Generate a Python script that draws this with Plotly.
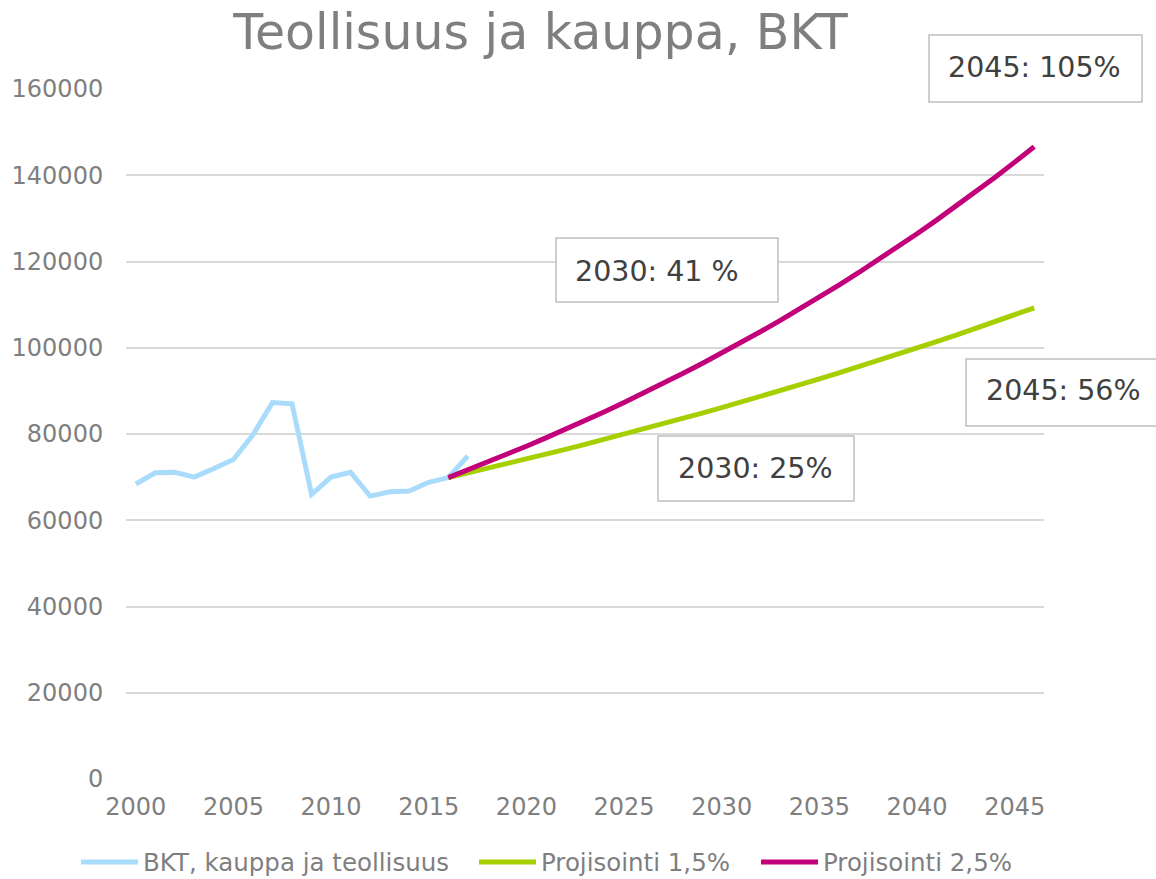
import plotly.graph_objects as go

# ---- data ----
hist_years = list(range(2000, 2018))
hist_values = [68400, 71000, 71100, 70000, 72000, 74100, 79800, 87300, 87000,
               66000, 70000, 71100, 65600, 66600, 66800, 68800, 69900, 74900]

proj_years = list(range(2016, 2047))
proj_15 = [69900, 70950, 72010, 73090, 74190, 75300, 76430, 77580, 78740, 79920,
           81120, 82340, 83570, 84830, 86100, 87390, 88700, 90030, 91380, 92760,
           94150, 95560, 96990, 98450, 99920, 101420, 102940, 104490, 106050,
           107650, 109260]
proj_25 = [69900, 71650, 73440, 75280, 77160, 79090, 81060, 83090, 85170, 87300,
           89480, 91720, 94010, 96360, 98770, 101240, 103770, 106360, 109020,
           111750, 114540, 117400, 120340, 123350, 126430, 129590, 132830,
           136150, 139560, 143040, 146620]

series_names = ["BKT, kauppa ja teollisuus", "Projisointi 1,5%", "Projisointi 2,5%"]
x_ticks = list(range(2000, 2046, 5))
y_ticks = list(range(0, 160001, 20000))
title_text = "Teollisuus ja kauppa, BKT"
labels = ["2045: 105%", "2030: 41 %", "2045: 56%", "2030: 25%"]

# ---- figure geometry (page body margin removed in the page script) ----
W, H = 1156, 879
L, R, T, B = 126, 1044, 89, 779


def px(x):
    return (x - L) / (R - L)


def py(y):
    return (B - y) / (B - T)


BLUE = "#A9DCFB"
GREEN = "#A6CF00"
MAGENTA = "#C2007A"
GREY = "#7F7F7F"
FONT = "DejaVu Sans"

colors = [BLUE, GREEN, MAGENTA]
xs = [hist_years, proj_years, proj_years]
ys = [hist_values, proj_15, proj_25]
legend_ids = ["legend", "legend2", "legend3"]
legend_x = [82, 480, 762]  # reference pixel x of each legend line start

fig = go.Figure()
for name, c, x, y, lg in zip(series_names, colors, xs, ys, legend_ids):
    fig.add_trace(go.Scatter(x=x, y=y, mode="lines", name=name, legend=lg,
                             line=dict(color=c, width=5)))

# label boxes (left, top, right, bottom in reference pixels) and text centres
boxes = [(929, 35, 1142, 102), (556, 238, 778, 302), (966, 359, 1170, 426), (658, 436, 854, 501)]
text_pos = [(1034, 68), (657, 271), (1063, 390), (755, 468)]

shapes = []
annotations = []
for (x0, y0, x1, y1), (tx, ty), lab in zip(boxes, text_pos, labels):
    shapes.append(dict(type="rect", xref="paper", yref="paper",
                       x0=px(x0), x1=px(x1), y0=py(y1), y1=py(y0),
                       fillcolor="white", line=dict(color="#BFBFBF", width=1.5),
                       layer="above"))
    annotations.append(dict(xref="paper", yref="paper", x=px(tx), y=py(ty),
                            text=lab, showarrow=False, xanchor="center", yanchor="middle",
                            font=dict(family=FONT, size=28.5, color="#404040")))

legend_common = dict(orientation="h", xref="container", yref="container",
                     xanchor="left", yanchor="middle", y=(H - 862) / H,
                     font=dict(family=FONT, size=24.5, color=GREY),
                     itemwidth=57, bgcolor="rgba(0,0,0,0)")

layout_legends = {}
for lg, lx in zip(legend_ids, legend_x):
    layout_legends[lg] = dict(legend_common, x=(lx - 6) / W)

fig.update_layout(
    width=W, height=H,
    margin=dict(l=L, r=W - R, t=T, b=H - B, autoexpand=False),
    paper_bgcolor="white", plot_bgcolor="white",
    title=dict(text=title_text, x=(233 + 848) / 2 / W, xanchor="center",
               y=1 - 32 / H, yanchor="middle",
               font=dict(family=FONT, size=49, color=GREY)),
    font=dict(family=FONT, color=GREY),
    showlegend=True,
    shapes=shapes,
    annotations=annotations,
    **layout_legends,
)

fig.update_xaxes(range=[1999.5, 2046.5], tickmode="array", tickvals=x_ticks,
                 showgrid=False, zeroline=False, showline=False,
                 ticks="outside", ticklen=6, tickcolor="rgba(0,0,0,0)",
                 tickfont=dict(family=FONT, size=24, color=GREY))
fig.update_yaxes(range=[0, 160000], tickmode="array", tickvals=y_ticks,
                 tickformat="d",
                 showgrid=True, gridcolor="#D9D9D9", gridwidth=1.5,
                 zeroline=False, showline=False,
                 ticks="outside", ticklen=17, tickcolor="rgba(0,0,0,0)",
                 tickfont=dict(family=FONT, size=24, color=GREY))

fig.write_html("out.html",
               config={"displayModeBar": False},
               post_script="document.body.style.margin='0';document.body.style.overflow='hidden';")
